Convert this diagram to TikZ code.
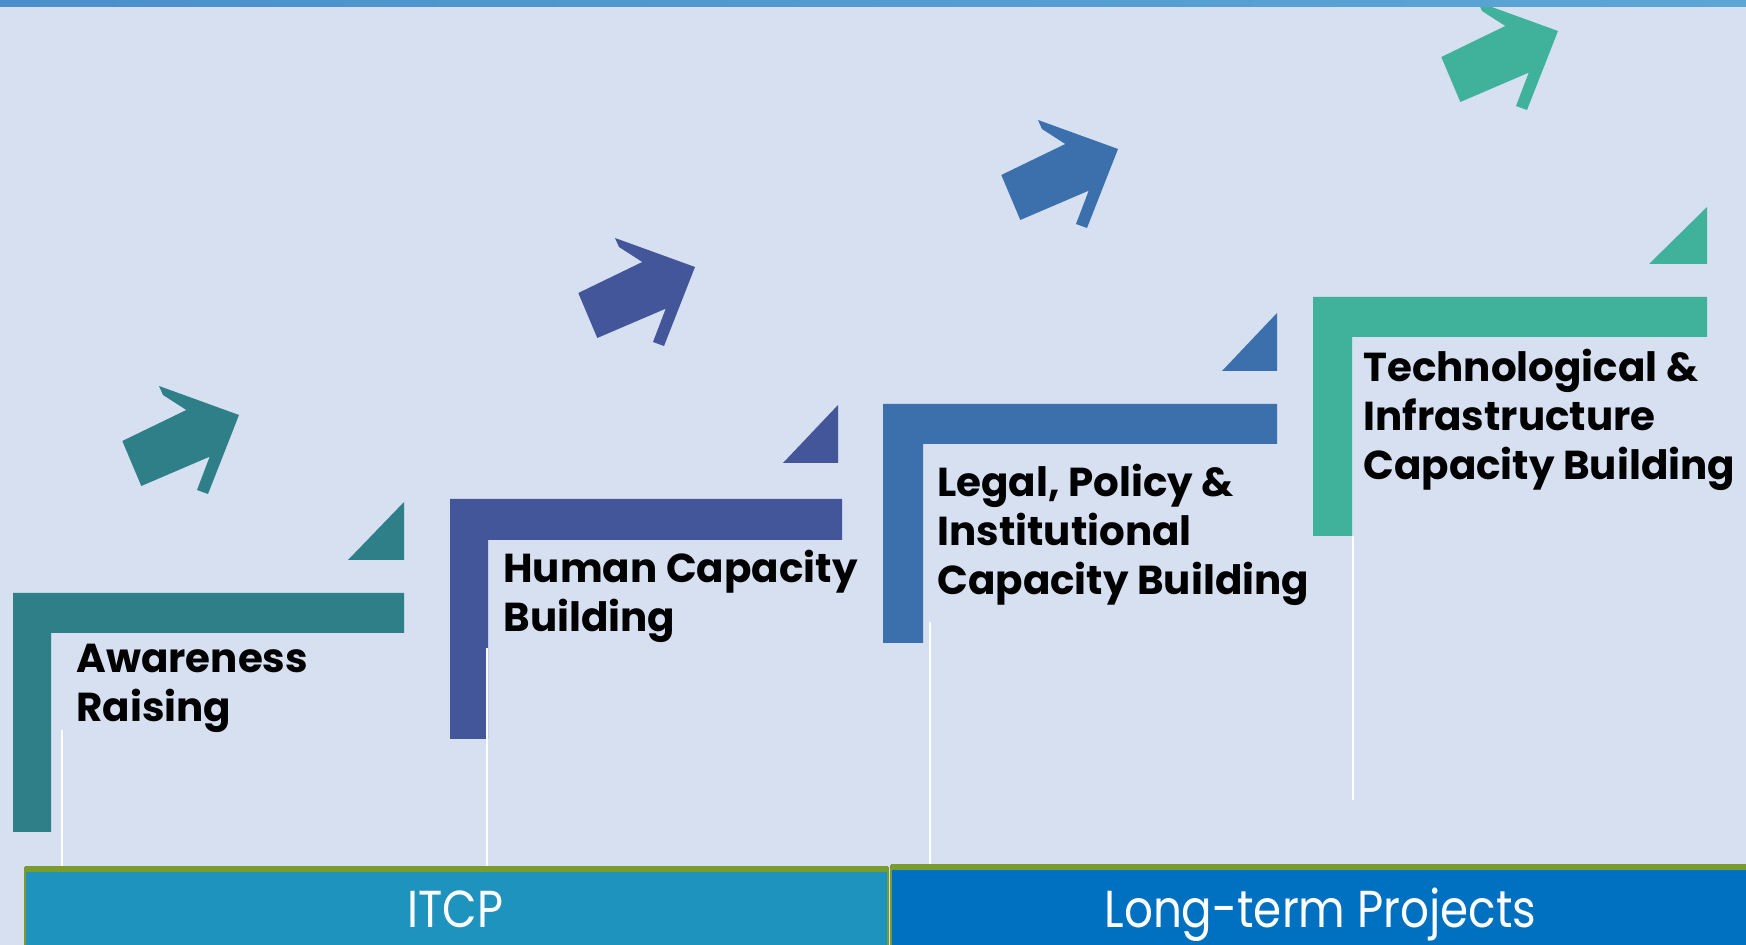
\documentclass[tikz,border=0pt]{standalone}
\usepackage{fontspec}
\usepackage{graphicx}
\newfontfamily\pop{Poppins}
\definecolor{bg}{HTML}{D6E0F0}
\definecolor{cone}{HTML}{2E7F87}
\definecolor{ctwo}{HTML}{435699}
\definecolor{cthree}{HTML}{3B70AD}
\definecolor{cfour}{HTML}{40B29B}
\definecolor{itcpc}{HTML}{1E93BE}
\definecolor{longc}{HTML}{0070C0}
\definecolor{olive}{HTML}{7A9C2E}
\definecolor{bandl}{HTML}{4A8FCB}
\definecolor{bandr}{HTML}{5CA6D6}
\tikzset{
  arrowpic/.pic={\fill[pic actions] (0,0) -- (-31,79) -- (-42,75) -- (-29.3,41.7) -- (-97.7,71) -- (-116.7,26) -- (-52.7,-5) -- (-76,-20) -- (-80,-29) -- cycle;},
  lbl/.style={font=\pop\bfseries\fontsize{20.2}{24.6}\selectfont, align=left, inner sep=0pt, anchor=base west, text=black},
  bottomlbl/.style={font=\pop\fontsize{26}{30}\selectfont, inner sep=0pt, anchor=base, text=white},
  seam/.style={white, line width=1.2pt}
}
\begin{document}
\begin{tikzpicture}[x=0.5pt,y=-0.5pt]
\useasboundingbox (0,0) rectangle (1746,945);
\fill[bg] (0,0) rectangle (1746,945);
% arrows
\pic[fill=cone] at (239,415) {arrowpic};
\pic[fill=ctwo] at (695,267) {arrowpic};
\pic[fill=cthree] at (1118,149) {arrowpic};
\pic[fill=cfour] at (1558,31) {arrowpic};
% triangles
\fill[cone] (348,560) -- (404,560) -- (404,502) -- cycle;
\fill[ctwo] (783,463) -- (838,463) -- (838,405) -- cycle;
\fill[cthree] (1222,371) -- (1277,371) -- (1277,313) -- cycle;
\fill[cfour] (1649,264) -- (1707,264) -- (1707,207) -- cycle;
% L shapes
\fill[cone] (13,593) -- (404,593) -- (404,633) -- (51,633) -- (51,832) -- (13,832) -- cycle;
\fill[ctwo] (450,499) -- (842,499) -- (842,540) -- (488,540) -- (488,739) -- (450,739) -- cycle;
\fill[cthree] (883,404) -- (1277,404) -- (1277,444) -- (923,444) -- (923,643) -- (883,643) -- cycle;
\fill[cfour] (1313,297) -- (1707,297) -- (1707,337) -- (1352,337) -- (1352,536) -- (1313,536) -- cycle;
% seams
\coordinate (s1a) at (62,730); \coordinate (s1b) at (62,868);
\coordinate (s2a) at (487,648); \coordinate (s2b) at (487,868);
\coordinate (s3a) at (930,622); \coordinate (s3b) at (930,868);
\coordinate (s4a) at (1353,536); \coordinate (s4b) at (1353,800);
\draw[seam] (s1a) -- (s1b);
\draw[seam] (s2a) -- (s2b);
\draw[seam] (s3a) -- (s3b);
\draw[seam] (s4a) -- (s4b);
% labels (anchored at the baseline of the last line)
\node[lbl] (t1) at (76,722) {Awareness\\Raising};
\node[lbl] (t2) at (503,632) {Human Capacity\\Building};
\node[lbl] (t3) at (937,595) {Legal, Policy \&\\Institutional\\Capacity Building};
\node[lbl] (t4) at (1363,480) {Technological \&\\Infrastructure\\Capacity Building};
% bottom boxes
\fill[itcpc] (24.5,868) rectangle (887.5,946);
\draw[olive, line width=1pt] (24.5,946) -- (24.5,868) -- (887.5,868) -- (887.5,946);
\fill[olive] (24.5,866) rectangle (887.5,872);
\fill[longc] (891,866) rectangle (1746,946);
\draw[olive, line width=1pt] (891,946) -- (891,866) -- (1746,866);
\fill[olive] (891,864) rectangle (1746,870);
\node[bottomlbl] (itcp) at (455.5,927.5) {\resizebox{47.9pt}{\height}{ITCP}};
\node[bottomlbl] (longterm) at (1320.5,927.5) {\resizebox{216pt}{\height}{Long-term Projects}};
% top band
\shade[left color=bandl, right color=bandr] (0,0) rectangle (1746,7);
\end{tikzpicture}
\end{document}
